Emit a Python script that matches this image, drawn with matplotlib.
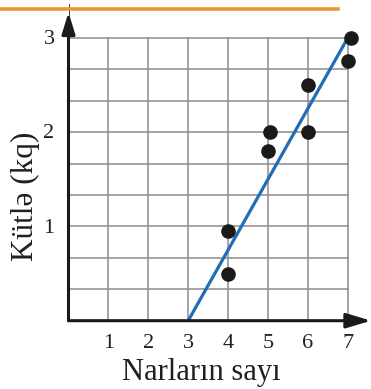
import matplotlib
matplotlib.use("Agg")
import matplotlib.pyplot as plt
from matplotlib.lines import Line2D

# Pomegranate count vs. mass
pomegranates = [4, 4, 5, 5.04, 6, 6, 7, 7.08]
mass_kg = [0.5, 0.95, 1.8, 2.0, 2.0, 2.5, 2.75, 3.0]

# Trend line end points
trend_x = [3, 7]
trend_y = [0, 3]

x_ticks = [1, 2, 3, 4, 5, 6, 7]
y_ticks = [1, 2, 3]
x_label = "Narların sayı"
y_label = "Kütlə (kq)"

W, H, DPI = 371, 389, 100
fig = plt.figure(figsize=(W / DPI, H / DPI), dpi=DPI)
plt.rcParams["font.family"] = ["Liberation Serif", "DejaVu Serif"]

ox, oy = 68.5, 320.7          # origin in pixels (from top-left)
sx, sy = 39.9, 94.3           # pixels per unit
x_max = (W - ox) / sx
y_max = oy / sy
ax = fig.add_axes([ox / W, (H - oy) / H, (W - ox) / W, oy / H])
ax.set_xlim(0, x_max)
ax.set_ylim(0, y_max)
ax.axis("off")

grid_col = "#8c8c8c"
for gx in x_ticks:
    ax.plot([gx, gx], [0, 3], color=grid_col, lw=1.1, zorder=1)
for k in range(1, 10):
    ax.plot([0, 7], [k / 3, k / 3], color=grid_col, lw=1.1, zorder=1)

# Axes with arrowheads
ax.annotate("", xy=(x_max, 0), xytext=(0, 0),
            arrowprops=dict(arrowstyle="-|>,head_length=1.5,head_width=0.45",
                            color="#1a1a1a", lw=2.2, shrinkA=0, shrinkB=0),
            annotation_clip=False, zorder=5)
ax.annotate("", xy=(0, 3.27), xytext=(0, 0),
            arrowprops=dict(arrowstyle="-|>,head_length=1.3,head_width=0.4",
                            color="#1a1a1a", lw=2.2, shrinkA=0, shrinkB=0),
            annotation_clip=False, zorder=5)
ax.plot([0, 0], [3.2, 3.36], color="#1a1a1a", lw=0.6, zorder=5, clip_on=False)

ax.plot(trend_x, trend_y, color="#1f6db5", lw=2.3, zorder=3, solid_capstyle="butt")
ax.plot(pomegranates, mass_kg, "o", color="#1a1a1a", ms=9.5, zorder=4, clip_on=False)

for t in x_ticks:
    ax.text(t, -0.24, str(t), ha="center", va="center", fontsize=16, color="#231f20")
for t in y_ticks:
    ax.text(-0.35, t - 0.02, str(t), ha="right", va="center", fontsize=16, color="#231f20")

ax.text(3.32, -0.634, x_label, ha="center", va="baseline", fontsize=22, color="#231f20")
ax.text(-1.09, 1.32, y_label, ha="center", va="center", rotation=90, fontsize=22.5, color="#231f20")

# Orange rule across the top
fig.add_artist(Line2D([0, 338 / W], [1 - 8.7 / H, 1 - 8.7 / H], color="#f0962f", lw=2.6))

fig.savefig("out.png", dpi=DPI)
